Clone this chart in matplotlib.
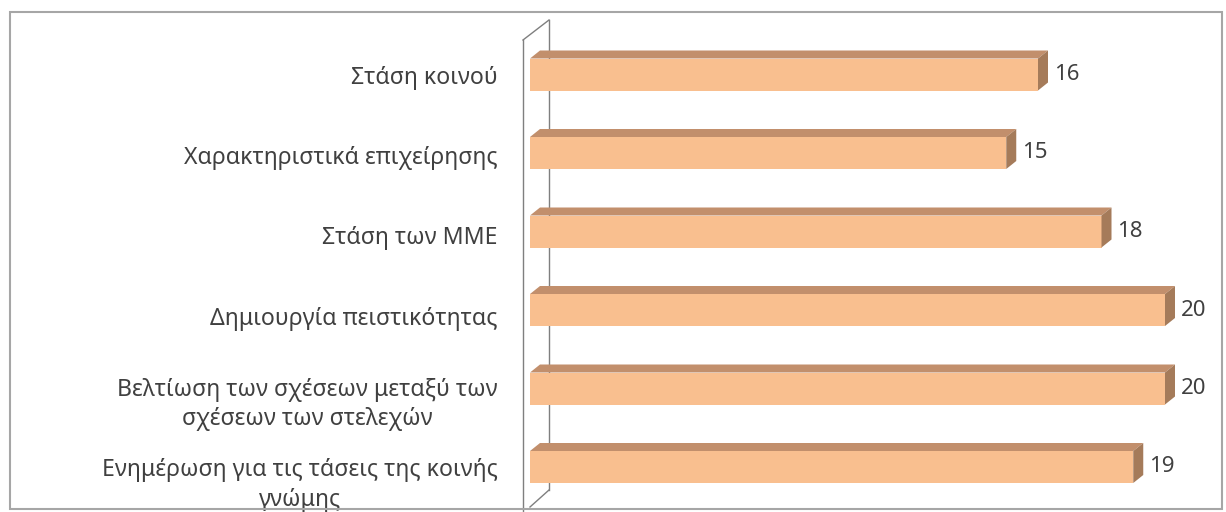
import matplotlib.pyplot as plt
from matplotlib.patches import Polygon, Rectangle

# Data
categories = [
    "Στάση κοινού",
    "Χαρακτηριστικά επιχείρησης",
    "Στάση των ΜΜΕ",
    "Δημιουργία πειστικότητας",
    "Βελτίωση των σχέσεων μεταξύ των\nσχέσεων των στελεχών",
    "Ενημέρωση για τις τάσεις της κοινής\nγνώμης",
]
values = [16, 15, 18, 20, 20, 19]

# Style
FRONT = "#F9BF8F"
TOP = "#C28F6C"
SIDE = "#A57B5A"
TEXT = "#404040"
plt.rcParams["font.family"] = ["Noto Sans", "DejaVu Sans"]

W, H = 1226, 512
PX = 31.75          # pixels per unit on x
ROW = 78.5          # pixels per category row
X0, Y0 = 530, 74.5  # pixel of value 0 / first row centre
bar_h = 32 / ROW
dx = 10 / PX        # 3D depth offsets
dy = 8 / ROW

fig = plt.figure(figsize=(W / 100, H / 100), dpi=100)
ax = fig.add_axes([0, 0, 1, 1])
ax.set_xlim(-X0 / PX, (W - X0) / PX)
ax.set_ylim((H - Y0) / ROW, -Y0 / ROW)
ax.axis("off")

# outer chart frame
fig.patches.append(Rectangle((10 / W, 3 / H), 1212 / W, 497 / H, transform=fig.transFigure,
                             fill=False, edgecolor="#A6A6A6", lw=1.5))

# 3D back wall (left side)
wx0 = -7 / PX
wx1 = 19 / PX
top_y = (40 - Y0) / ROW
ax.plot([wx0, wx0], [(H - Y0) / ROW, top_y], color="#7F7F7F", lw=1)
ax.plot([wx0, wx1], [top_y, top_y - 20 / ROW], color="#7F7F7F", lw=1)
ax.plot([wx1, wx1], [top_y - 20 / ROW, (490 - Y0) / ROW], color="#7F7F7F", lw=1)
ax.plot([wx1, 0], [(490 - Y0) / ROW, (507 - Y0) / ROW], color="#7F7F7F", lw=1)

ypos = list(range(len(values)))
ax.barh(ypos, values, height=bar_h, color=FRONT, edgecolor="none", zorder=3)

for i, v in enumerate(values):
    yt = i - bar_h / 2
    yb = i + bar_h / 2
    ax.add_patch(Polygon([(0, yt), (v, yt), (v + dx, yt - dy), (dx, yt - dy)],
                         closed=True, color=TOP, lw=0, zorder=3))
    ax.add_patch(Polygon([(v, yt), (v + dx, yt - dy), (v + dx, yb - dy), (v, yb)],
                         closed=True, color=SIDE, lw=0, zorder=3))
    ax.text(v + dx + 6 / PX, i, str(v), ha="left", va="center",
            fontsize=16, color=TEXT)
    lab_y = i + (3 + 2 * i + (5 if "\n" in categories[i] else 0)) / ROW
    ax.text(-32 / PX, lab_y, categories[i], ha="right", va="center",
            multialignment="center", fontsize=16.6, color=TEXT, linespacing=1.3)

fig.savefig("out.png", dpi=100)
